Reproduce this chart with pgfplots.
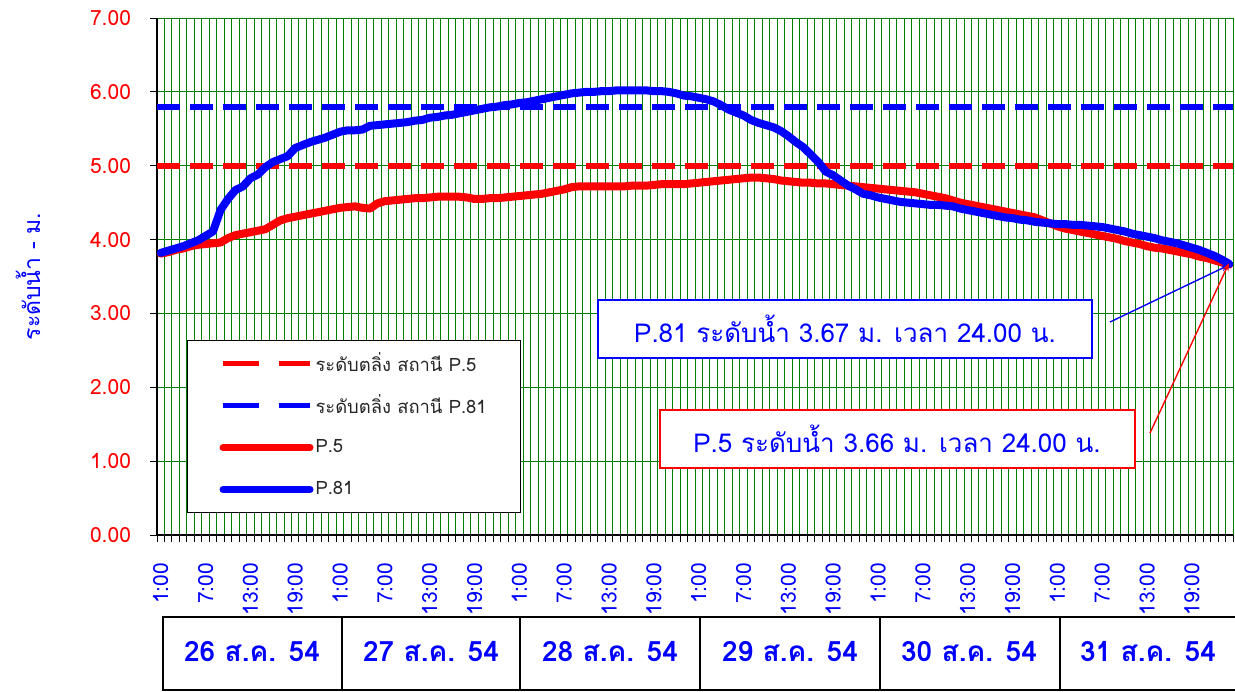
\documentclass[border=0pt]{standalone}
\usepackage{fontspec}
\setmainfont[Script=Thai]{Loma}
\usepackage{pgfplots}
\usepackage{pgfplotstable}
\pgfplotsset{compat=1.18}
\usetikzlibrary{arrows.meta}
\definecolor{gridgreen}{RGB}{0,128,0}
\pgfplotstableread{
i p5 p81
0 3.81 3.82
1 3.83 3.85
2 3.86 3.88
3 3.88 3.91
4 3.91 3.95
5 3.93 3.99
6 3.94 4.05
7 3.95 4.11
8 3.96 4.40
9 4.02 4.55
10 4.06 4.67
11 4.08 4.72
12 4.10 4.83
13 4.12 4.88
14 4.14 4.98
15 4.20 5.05
16 4.26 5.09
17 4.29 5.13
18 4.31 5.24
19 4.33 5.28
20 4.35 5.32
21 4.37 5.35
22 4.39 5.38
23 4.41 5.42
24 4.43 5.46
25 4.44 5.48
26 4.45 5.48
27 4.43 5.49
28 4.42 5.54
29 4.49 5.55
30 4.52 5.56
31 4.53 5.57
32 4.54 5.58
33 4.55 5.59
34 4.56 5.61
35 4.56 5.62
36 4.57 5.65
37 4.58 5.66
38 4.58 5.68
39 4.58 5.69
40 4.58 5.71
41 4.57 5.73
42 4.55 5.75
43 4.55 5.77
44 4.56 5.79
45 4.56 5.80
46 4.57 5.82
47 4.58 5.83
48 4.59 5.85
49 4.60 5.86
50 4.61 5.88
51 4.62 5.90
52 4.64 5.92
53 4.66 5.94
54 4.68 5.96
55 4.71 5.98
56 4.72 5.99
57 4.72 6.00
58 4.72 6.00
59 4.72 6.01
60 4.72 6.01
61 4.72 6.02
62 4.72 6.02
63 4.73 6.02
64 4.73 6.02
65 4.73 6.02
66 4.74 6.01
67 4.75 6.01
68 4.75 6.00
69 4.75 5.98
70 4.75 5.95
71 4.76 5.94
72 4.77 5.92
73 4.78 5.90
74 4.79 5.87
75 4.80 5.82
76 4.81 5.76
77 4.82 5.72
78 4.83 5.68
79 4.84 5.62
80 4.84 5.58
81 4.83 5.55
82 4.82 5.52
83 4.80 5.47
84 4.79 5.40
85 4.78 5.32
86 4.77 5.25
87 4.77 5.15
88 4.76 5.05
89 4.76 4.92
90 4.75 4.87
91 4.74 4.80
92 4.73 4.73
93 4.72 4.68
94 4.71 4.62
95 4.70 4.60
96 4.69 4.57
97 4.68 4.55
98 4.67 4.53
99 4.66 4.51
100 4.65 4.50
101 4.64 4.49
102 4.62 4.48
103 4.60 4.47
104 4.58 4.47
105 4.56 4.46
106 4.53 4.45
107 4.50 4.42
108 4.48 4.40
109 4.46 4.38
110 4.44 4.36
111 4.42 4.34
112 4.40 4.32
113 4.38 4.30
114 4.36 4.29
115 4.34 4.27
116 4.32 4.26
117 4.30 4.24
118 4.26 4.23
119 4.22 4.22
120 4.18 4.21
121 4.15 4.21
122 4.13 4.20
123 4.11 4.20
124 4.09 4.19
125 4.07 4.18
126 4.05 4.17
127 4.03 4.15
128 4.01 4.13
129 3.98 4.11
130 3.96 4.08
131 3.94 4.06
132 3.91 4.04
133 3.89 4.02
134 3.88 3.99
135 3.86 3.97
136 3.84 3.95
137 3.82 3.92
138 3.80 3.89
139 3.77 3.86
140 3.75 3.82
141 3.72 3.78
142 3.69 3.73
143 3.66 3.67
}\datatable
\begin{document}
\begin{tikzpicture}
\begin{axis}[
  at={(78.5pt,-267.5pt)}, anchor=south west,
  scale only axis, width=538pt, height=258.5pt,
  xmin=-0.5, xmax=143.5, ymin=0, ymax=7,
  axis x line*=bottom, axis y line*=left,
  axis line style={line width=1pt, black},
  xtick={0,6,...,138},
  xticklabels={1:00,7:00,13:00,19:00,1:00,7:00,13:00,19:00,1:00,7:00,13:00,19:00,1:00,7:00,13:00,19:00,1:00,7:00,13:00,19:00,1:00,7:00,13:00,19:00},
  minor xtick={-0.5,0.5,...,143.5},
  xmajorgrids=false, xminorgrids=true,
  minor x grid style={gridgreen, line width=0.5pt},
  ytick={0,1,...,7},
  yticklabels={0.00,1.00,2.00,3.00,4.00,5.00,6.00,7.00},
  ymajorgrids=true,
  major y grid style={gridgreen, line width=0.5pt},
  tick align=outside, major tick length=3.5pt, minor tick length=3.5pt,
  major x tick style={draw=none},
  tick style={black, line width=0.5pt},
  yticklabel style={red, xshift=-6pt, font=\fontsize{10.5}{12}\selectfont},
  xticklabel style={yshift=-7pt, blue, rotate=90, anchor=east, font=\fontsize{10.5}{12}\selectfont},
  ylabel={ระดับน้ำ - ม.},
  ylabel shift=18pt,
  ylabel style={blue, font=\fontsize{11.5}{13}\selectfont},
  clip=false,
  legend image code/.code={\draw[#1] (0pt,0pt) -- (43.5pt,0pt);},
  legend cell align=left,
  legend style={at={(0.0279,0.377)}, anchor=north west, draw=black, line width=0.5pt, fill=white,
    font=\fontsize{9.2}{11}\selectfont, inner xsep=16pt, inner ysep=1pt, row sep=0pt, column sep=0pt,
    nodes={minimum height=21pt, inner ysep=0pt, inner xsep=1pt, text=black!85}},
]
\addlegendimage{red, line width=2.5pt, dash pattern=on 18pt off 10pt}
\addlegendentry{ระดับตลิ่ง สถานี P.5}
\addlegendimage{blue, line width=2.5pt, dash pattern=on 18pt off 10pt}
\addlegendentry{ระดับตลิ่ง สถานี P.81}
\addlegendimage{red, line width=3.5pt, line cap=round}
\addlegendentry{P.5}
\addlegendimage{blue, line width=3.5pt, line cap=round}
\addlegendentry{P.81}
\addplot[red, line width=2.9pt, dash pattern=on 11.5pt off 5pt, forget plot] coordinates {(-0.5,5) (143.5,5)};
\addplot[blue, line width=2.9pt, dash pattern=on 11.5pt off 5pt, forget plot] coordinates {(-0.5,5.8) (143.5,5.8)};
\addplot[red, line width=4pt, line join=round, line cap=round, forget plot] table[x=i, y=p5] {\datatable};
\addplot[blue, line width=4pt, line join=round, line cap=round, forget plot] table[x=i, y=p81] {\datatable};
\end{axis}
\begin{scope}[x=0.5pt,y=-0.5pt]
  \draw[blue, line width=0.8pt, fill=white] (598,300) rectangle (1092,358);
  \node[blue, font=\fontsize{13}{15}\selectfont] at (845,329) {P.81 ระดับน้ำ 3.67 ม. เวลา 24.00 น.};
  \draw[red, line width=0.8pt, fill=white] (660,410) rectangle (1135,468);
  \node[blue, font=\fontsize{13}{15}\selectfont] at (897,439) {P.5 ระดับน้ำ 3.66 ม. เวลา 24.00 น.};
  \draw[blue, line width=0.7pt, -{Stealth[length=4pt]}] (1110,322) -- (1229,265);
  \draw[red, line width=0.7pt, -{Stealth[length=4pt]}] (1150,433) -- (1229,263);
  \draw[black, line width=1pt] (163,617) rectangle (1238,690);
  \foreach \xx in {342,520,700,880,1060} \draw[black, line width=1pt] (\xx,617) -- (\xx,690);
  \foreach \xx/\lab in {252/26,431/27,610/28,790/29,969/30,1148/31}
    \node[blue, font=\bfseries\fontsize{14}{16}\selectfont] at (\xx,652) {\lab\ ส.ค. 54};
  \pgfresetboundingbox
  \useasboundingbox (0,0) rectangle (1235,691);
\end{scope}
\end{tikzpicture}
\end{document}
